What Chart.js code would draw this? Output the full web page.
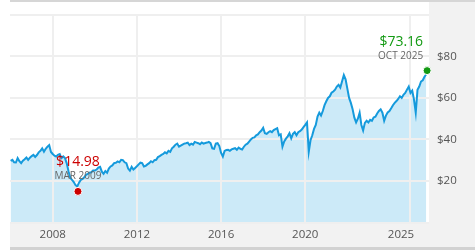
<!DOCTYPE html>
<html>
<head>
<meta charset="utf-8">
<script src="https://cdn.jsdelivr.net/npm/chart.js@4.4.1/dist/chart.umd.min.js"></script>
<style>
  body { margin: 0; background: #fff; }
  #wrap { position: relative; width: 475px; height: 250px; overflow: hidden; }
  #wrap div { position: absolute; }
  .topbar { left: 10px; top: 0; width: 465px; height: 2px; background: #d6d6d6; }
  .rightcol { left: 429px; top: 2px; width: 46px; height: 245px; background: #f2f2f2; }
  .bottomband { left: 10px; top: 222px; width: 465px; height: 25px; background: #f2f2f2; }
  .bottomline { left: 10px; top: 247px; width: 465px; height: 3px; background: #d2d2d2; }
  canvas { position: absolute; left: 0; top: 0; }
</style>
</head>
<body>
<div id="wrap">
  <div class="topbar"></div>
  <div class="rightcol"></div>
  <div class="bottomband"></div>
  <div class="bottomline"></div>
  <canvas id="PriceCanvas" width="475" height="250"></canvas>
</div>
<script>
// monthly closes, Jan 2006 .. Oct 2025
var firstYear = 2006;
var prices = [
    29.7, 30.2, 29.0, 28.9, 31.0, 29.5, 28.6, 29.8, 30.5, 31.3, 30.2, 31.2, // 2006
    32.0, 32.6, 31.6, 32.5, 33.8, 34.5, 35.7, 34.1, 35.5, 36.5, 37.3, 34.0, // 2007
    33.0, 32.2, 31.8, 32.6, 33.0, 31.0, 31.8, 31.0, 28.5, 24.7, 21.5, 20.5, // 2008
    19.5, 18.0, 17.4, 19.2, 20.5, 21.0, 21.8, 23.0, 23.4, 24.0, 24.2, 25.0, // 2009
    25.0, 25.5, 26.5, 26.8, 24.5, 23.5, 24.8, 24.0, 26.0, 27.0, 27.5, 28.6, // 2010
    28.8, 29.4, 29.0, 30.2, 30.0, 29.0, 28.6, 26.0, 25.0, 26.8, 25.5, 26.3, // 2011
    27.1, 28.0, 28.8, 28.6, 27.0, 27.3, 28.0, 28.6, 29.5, 29.0, 30.0, 30.2, // 2012
    31.5, 32.0, 32.6, 33.0, 33.8, 33.3, 34.5, 34.0, 35.7, 36.5, 37.5, 38.0, // 2013
    36.5, 37.0, 37.5, 38.0, 38.2, 38.5, 37.3, 38.0, 37.5, 38.8, 38.5, 38.2, // 2014
    37.7, 38.5, 38.0, 38.3, 38.5, 38.8, 38.2, 35.7, 35.5, 38.0, 38.2, 36.8, // 2015
    33.5, 31.8, 34.5, 34.9, 35.0, 34.5, 35.2, 35.5, 35.8, 35.0, 36.1, 35.5, // 2016
    35.2, 36.5, 37.5, 38.0, 39.0, 40.0, 40.8, 41.0, 42.0, 42.4, 43.5, 44.3, // 2017
    45.6, 43.0, 42.7, 43.5, 44.0, 43.5, 44.5, 45.0, 45.4, 42.0, 42.5, 36.5, // 2018
    39.0, 40.4, 41.5, 43.0, 40.5, 42.7, 43.5, 42.0, 43.5, 44.0, 44.8, 45.9, // 2019
    47.0, 48.2, 34.1, 39.6, 42.0, 45.1, 47.0, 51.0, 52.9, 51.5, 53.7, 56.5, // 2020
    58.4, 60.0, 60.8, 62.5, 63.1, 64.0, 65.5, 66.3, 65.0, 68.0, 71.0, 69.0, // 2021
    64.5, 60.0, 57.6, 54.5, 50.5, 48.2, 50.0, 52.9, 47.0, 44.3, 48.0, 49.0, // 2022
    48.2, 49.5, 49.0, 50.6, 51.0, 52.5, 53.7, 54.5, 52.9, 49.0, 51.5, 53.0, // 2023
    53.7, 55.0, 56.5, 57.6, 58.5, 59.5, 60.8, 60.0, 61.5, 62.4, 64.0, 65.5, // 2024
    62.4, 63.5, 59.2, 52.9, 63.9, 65.5, 67.9, 68.5, 70.2, 71.4              // 2025
];

// low and latest markers
var markerTimes = [2009.2, 2025.79];
var markerValues = [14.98, 73.16];
var markerDates = ["MAR 2009", "OCT 2025"];
var markerColors = ["#cc0000", "#139a13"];

var xTicks = [2008, 2012, 2016, 2020, 2025];
var xTickLabels = ["2008", "2012", "2016", "2020", "2025"];
var yTicks = [0, 20, 40, 60, 80, 100];

function InitPriceChart() {
    var linePoints = prices.map(function (v, i) {
        return { x: firstYear + i / 12, y: v };
    });
    var markerPoints = markerValues.map(function (v, i) {
        return { x: markerTimes[i], y: v };
    });

    var markerLabels = {
        id: "markerLabels",
        afterDatasetsDraw: function (chart) {
            var ctx = chart.ctx;
            var xs = chart.scales.x, ys = chart.scales.y;
            ctx.save();
            markerValues.forEach(function (v, i) {
                var px = xs.getPixelForValue(markerTimes[i]);
                var py = ys.getPixelForValue(v);
                var right = i === markerValues.length - 1;
                ctx.textAlign = right ? "right" : "center";
                var tx = right ? px - 4 : px;
                ctx.fillStyle = markerColors[i];
                ctx.font = '14px "Open Sans"';
                ctx.fillText("$" + v.toFixed(2), tx, py - 25);
                ctx.fillStyle = "#666";
                ctx.font = '10px "Open Sans"';
                ctx.fillText(markerDates[i], tx, py - 12);
            });
            ctx.restore();
        }
    };

    new Chart(document.getElementById("PriceCanvas"), {
        type: "line",
        data: {
            datasets: [
                {
                    type: "scatter",
                    data: markerPoints,
                    pointRadius: 4,
                    pointBackgroundColor: markerColors,
                    pointBorderColor: "#fff",
                    pointBorderWidth: 1,
                    showLine: false,
                    fill: false,
                    clip: false
                },
                {
                    data: linePoints,
                    borderColor: "#159adc",
                    borderWidth: 2,
                    backgroundColor: "#cceaf8",
                    fill: "start",
                    pointRadius: 0,
                    tension: 0
                }
            ]
        },
        options: {
            responsive: false,
            animation: false,
            layout: { padding: { left: 10, top: 10, right: 0, bottom: 0 } },
            plugins: {
                legend: { display: false },
                tooltip: { enabled: false },
                filler: { drawTime: "beforeDraw" }
            },
            scales: {
                x: {
                    type: "linear",
                    min: 2005.97,
                    max: 2025.88,
                    weight: 0,
                    border: { display: false },
                    grid: { color: "#efefef", lineWidth: 2, drawTicks: false },
                    ticks: { display: false },
                    afterBuildTicks: function (scale) {
                        scale.ticks = xTicks.map(function (v) { return { value: v }; });
                    },
                    afterFit: function (scale) { scale.height = 0; }
                },
                xLabels: {
                    type: "linear",
                    position: "bottom",
                    min: 2005.97,
                    max: 2025.88,
                    weight: 1,
                    border: { display: false },
                    grid: { display: false, drawTicks: false },
                    ticks: {
                        color: "#555",
                        font: { family: "Open Sans", size: 11.5 },
                        padding: 5,
                        maxRotation: 0,
                        autoSkip: false,
                        callback: function (v, i) { return xTickLabels[i]; }
                    },
                    afterBuildTicks: function (scale) {
                        // last label is pulled in a little from the edge
                        scale.ticks = xTicks.map(function (v, i) {
                            return { value: i === xTicks.length - 1 ? v - 0.45 : v };
                        });
                    },
                    afterFit: function (scale) { scale.height = 27.5; }
                },
                y: {
                    position: "right",
                    min: 0,
                    max: 100,
                    border: { display: false },
                    grid: { color: "#efefef", lineWidth: 2, drawTicks: false },
                    ticks: {
                        color: "#555",
                        font: { family: "Open Sans", size: 11.5 },
                        padding: 8,
                        callback: function (v) { return (v > 0 && v < 100) ? "$" + v : ""; }
                    },
                    afterBuildTicks: function (scale) {
                        scale.ticks = yTicks.map(function (v) { return { value: v }; });
                    },
                    afterFit: function (scale) { scale.width = 46; }
                }
            }
        },
        plugins: [markerLabels]
    });
}

InitPriceChart();
</script>
</body>
</html>
